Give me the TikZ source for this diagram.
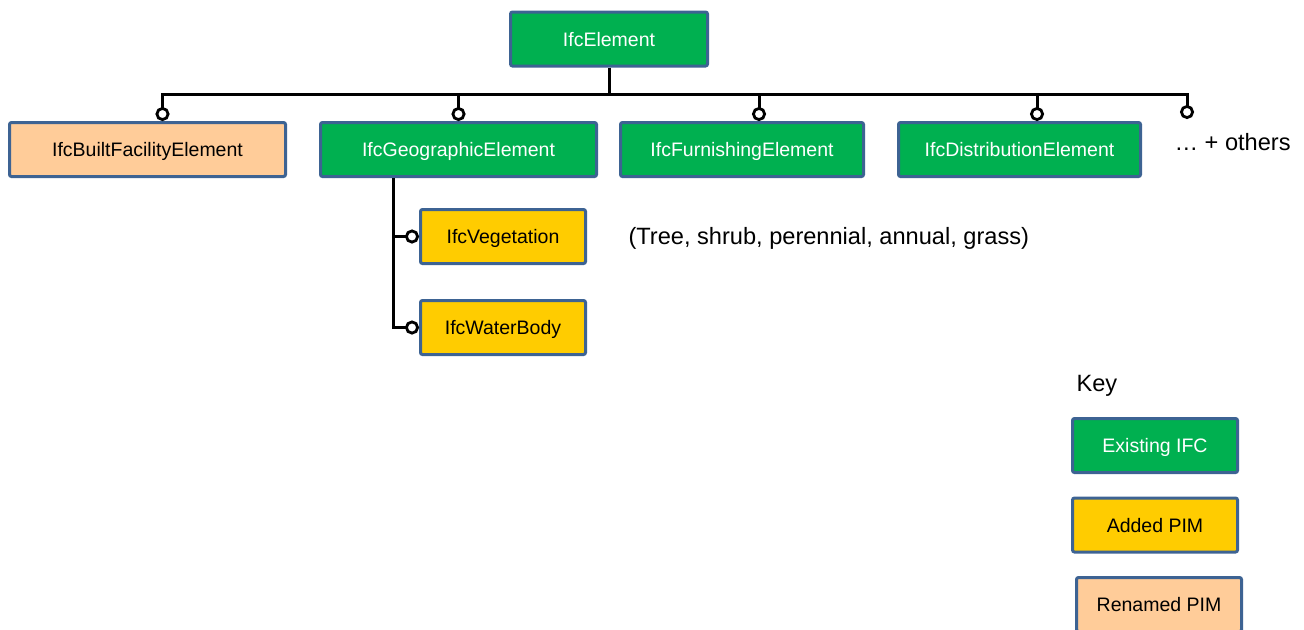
\documentclass[tikz,border=0pt]{standalone}
\usepackage{fontspec}
\setmainfont{Liberation Sans}
\usetikzlibrary{arrows.meta}
\definecolor{ifcgreen}{HTML}{00B050}
\definecolor{pimyellow}{HTML}{FFCC00}
\definecolor{pimpeach}{HTML}{FFCC99}
\definecolor{boxedge}{HTML}{3D6393}

\begin{document}
\begin{tikzpicture}[
        x=0.5pt, y=-0.5pt,
        line width=1.5pt,
        box/.style={draw=boxedge, rounded corners=1pt, minimum height=27pt,
            inner sep=0pt, text height=9pt, text depth=2pt,
            font=\fontsize{9.75}{11}\selectfont},
        existing/.style={box, fill=ifcgreen, text=white},
        added/.style={box, fill=pimyellow},
        renamed/.style={box, fill=pimpeach},
        link/.style={-{Circle[open, fill=white, length=7pt, line width=1.4pt]}},
        note/.style={inner sep=0pt, font=\fontsize{11.8}{14}\selectfont}
    ]
    \useasboundingbox (0,0) rectangle (1304,629);

    % hierarchy
    \node[existing, minimum width=98.5pt] (IfcElement) at (609,39) {IfcElement};
    \node[renamed, minimum width=138pt] (built) at (147.5,149.5) {IfcBuiltFacilityElement};
    \node[existing, minimum width=138pt] (geo) at (458.5,149.5) {IfcGeographicElement};
    \node[existing, minimum width=121.5pt] (furn) at (742,149.5) {IfcFurnishingElement};
    \node[existing, minimum width=121pt] (dist) at (1019.5,149.5) {IfcDistributionElement};
    \node[note, anchor=west] (others) at (1173,142) {\dots{} + others};
    \node[added, minimum width=82.5pt] (veg) at (503,236.5) {IfcVegetation};
    \node[added, minimum width=82.5pt] (water) at (503,327.5) {IfcWaterBody};
    \node[note, anchor=west] (kinds) at (627,238) {(Tree, shrub, perennial, annual, grass)};

    \coordinate (bus) at (609,94);
    \coordinate (more) at (1187,119);
    \draw (IfcElement) -- (bus);
    \draw[link] (bus) -| ([xshift=7.5pt]built.north);
    \draw[link] (bus) -| (geo.north);
    \draw[link] (bus) -| ([xshift=8.5pt]furn.north);
    \draw[link] (bus) -| ([xshift=8.75pt]dist.north);
    \draw[link] (bus) -| (more);
    \draw[link] ([xshift=-32.75pt]geo.south) |- (veg.west);
    \draw[link] ([xshift=-32.75pt]geo.south) |- (water.west);

    % key
    \node[note, anchor=west] (key) at (1075,386) {Key};
    \node[existing, minimum width=82.5pt] (keyifc) at (1155,445.5) {Existing IFC};
    \node[added, minimum width=82.5pt] (keyadded) at (1155,525) {Added PIM};
    \node[renamed, minimum width=82.5pt] (keyrenamed) at (1159,604.5) {Renamed PIM};
\end{tikzpicture}
\end{document}
